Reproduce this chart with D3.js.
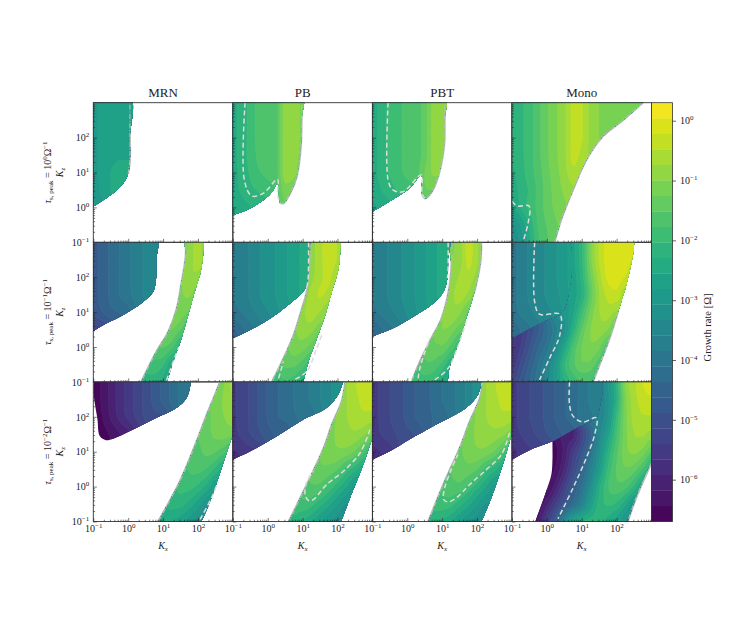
<!DOCTYPE html>
<html><head><meta charset="utf-8">
<script src="https://cdn.jsdelivr.net/npm/d3@7"></script>
<style>html,body{margin:0;background:#fff}svg{display:block}text{font-family:"Liberation Serif",serif;fill:#222}</style>
</head><body><div id="chart"></div>
<script>
const _ = null;
const columnTitles = ["MRN","PB","PBT","Mono"];
const rowExponents = ["0","−1","−2"];
const kTicks = [0.1,1,10,100];
const growthTicks = [1,0.1,0.01,1e-3,1e-4,1e-5,1e-6];
const growthDomain = [2e-7,2];
const bandCount = 27;
// grid nodes of every growth table: log10 Kx (columns) and log10 Kz (rows)
const gridLogKx = [-1,-.75,-.5,-.25,0,.25,.5,.75,1,1.25,1.5,1.75,2,2.25,2.5,2.75,3];
const gridLogKz = [3,2.5,2,1.5,1,.5,0,-.5,-1];

// ---- row 1 (tau = 1)
const mrn1Edge = [[.05,3.2],[.05,2],[.05,1.36],[0,.97],[-.14,.69],[-.38,.45],[-.71,.21],[-1,.02],[-1.2,-.1],[-1.3,1],[-1.3,3.2]];
const mrn1Growth = [
[-2.95,-2.7,-2.65,-2.65,-2.65,-2.65],
[-2.95,-2.7,-2.65,-2.65,-2.65,-2.65],
[-2.95,-2.7,-2.65,-2.65,-2.65,-2.65],
[-2.95,-2.7,-2.65,-2.6,-2.6,-2.6],
[-2.95,-2.7,-2.55,-2.42,-2.42,-2.45],
[-3.0,-2.75,-2.55,-2.42,-2.45],
[-3.1,-2.9,-2.7,-2.6],[],[]];
const pb1Edge = [[.98,3.2],[.97,2.5],[.95,1.74],[.83,.88],[.64,.40],[.45,.12],[.36,.12],[.3,.4],[.28,.74],[.17,.5],[-.12,.21],[-.5,-.03],[-1,-.22],[-1.2,-.3],[-1.3,1],[-1.3,3.2]];
const pb1Growth = [
[-2.4,-2.15,-1.95,-1.65,-1.65,-1.6,-.85,-.8,-1.1,-1.3],
[-2.4,-2.15,-1.95,-1.65,-1.65,-1.6,-.85,-.8,-1.1,-1.3],
[-2.4,-2.15,-1.95,-1.65,-1.65,-1.6,-.85,-.8,-1.1,-1.3],
[-2.4,-2.15,-1.95,-1.7,-1.65,-1.6,-.85,-.85,-1.15,-1.4],
[-2.4,-2.2,-2.0,-1.8,-1.7,-1.6,-.85,-.9,-1.3],
[-2.4,-2.25,-2.1,-2.0,-1.9,-1.7,-1.1,-1.2],
[-2.5,-2.4,-2.3,-2.2,-2.1,-1.7,-1.3],[],[]];
const pb1Dash = [[-.65,3],[-.67,.78],[-.46,.33],[-.12,.41],[.28,.81],[.28,.36],[.36,.1]];
const pbt1Edge = [[1.07,3.2],[1.07,2.5],[1.05,1.7],[.82,.69],[.63,.35],[.5,.26],[.42,.4],[.4,.93],[.07,.55],[-.43,.22],[-1,-.12],[-1.2,-.2],[-1.3,1],[-1.3,3.2]];
const pbt1Growth = [
[-2.4,-2.2,-1.95,-1.85,-1.65,-1.62,-1.4,-.9,-.9,-.9],
[-2.4,-2.2,-1.95,-1.85,-1.65,-1.62,-1.4,-.9,-.9,-.9],
[-2.4,-2.2,-1.95,-1.85,-1.65,-1.62,-1.4,-.9,-.9,-.9],
[-2.4,-2.2,-1.95,-1.85,-1.65,-1.62,-1.4,-.9,-.9,-.95],
[-2.4,-2.2,-2,-1.85,-1.7,-1.65,-1.25,-.95,-1.0],
[-2.5,-2.3,-2.15,-2,-1.9,-1.75,-1.3,-1.25],
[-2.6,-2.5,-2.35,-2.2,-2,-1.8,-1.5],[],[]];
const pbt1Dash = [[-.55,3],[-.55,.78],[-.41,.5],[-.12,.45],[.4,.93],[.42,.4],[.5,.26]];
const mono1Edge = [[2.95,3.2],[2.75,3],[2.18,2.5],[1.6,2.03],[1.13,1.36],[.75,.5],[.41,-.36],[.22,-1],[.15,-1.2],[-1.3,-1.3],[-1.3,3.2]];
const mono1Growth = [
[-2.3,-2.1,-1.9,-1.6,-1.3,-1.05,-.8,-.4,-.45,-.8,-1,-1.1,-1.15,-1.2,-1.2,-1.3],
[-2.3,-2.1,-1.9,-1.6,-1.3,-1.05,-.8,-.4,-.45,-.8,-1,-1.1,-1.15,-1.2,-1.2],
[-2.3,-2.1,-1.9,-1.6,-1.3,-1.05,-.8,-.4,-.45,-.8,-1,-1.1],
[-2.3,-2.1,-1.9,-1.6,-1.3,-1.05,-.8,-.4,-.55,-.8],
[-2.35,-2.15,-1.9,-1.65,-1.35,-1.1,-.85,-.55,-.7],
[-2.5,-2.2,-2.0,-1.7,-1.4,-1.15,-.95,-.8],
[-2.6,-2.3,-1.95,-1.7,-1.4,-1.2,-1.05],
[-3.2,-2.8,-2.3,-1.75,-1.5,-1.3,-1.15],
[-3.3,-3.0,-2.4,-1.85,-1.55,-1.4,-1.4]];
const mono1Dash = [[-1,.18],[-.85,.04],[-.51,.04],[-.54,-.46],[-.67,-.94]];

// ---- row 2 (tau = 0.1)
const mrn2EdgeA = [[.81,3.2],[.81,2.5],[.8,1.97],[.72,1.59],[.43,1.3],[-.14,.92],[-.62,.68],[-1,.46],[-1.2,.35],[-1.3,2],[-1.3,3.2]];
const mrn2GrowthA = [
[-4.7,-4.55,-4.3,-4.1,-3.9,-3.7,-3.55,-3.45,-3.45],
[-4.7,-4.55,-4.3,-4.1,-3.9,-3.7,-3.55,-3.45,-3.45],
[-4.7,-4.55,-4.3,-4.1,-3.9,-3.7,-3.55,-3.45],
[-4.7,-4.55,-4.3,-4.1,-3.95,-3.7,-3.55,-3.5],
[-4.8,-4.65,-4.45,-4.35,-4.2,-3.9,-3.7],
[-5.3,-5.15,-4.95,-4.7],[],[],[]];
const mrn2EdgeB = [[1.63,3.2],[1.65,2.64],[1.5,1.68],[1.39,1.1],[1.15,.44],[.81,-.13],[.37,-1],[.27,-1.2],[1.0,-1.2],[1.1,-1],[1.29,-.42],[1.53,.25],[1.72,.92],[1.91,1.59],[2.1,2.25],[2.17,3],[2.17,3.2]];
const mrn2GrowthB = [
[_,_,_,_,_,_,_,_,_,_,-1.1,-.95,-.6,-1],
[_,_,_,_,_,_,_,_,_,_,-1.1,-.9,-.6,-1],
[_,_,_,_,_,_,_,_,_,-1.2,-1.05,-.75,-.85],
[_,_,_,_,_,_,_,_,_,-1.25,-1.05,-.95,-1.2],
[_,_,_,_,_,_,_,_,-1.3,-1.15,-1.1,-1.3],
[_,_,_,_,_,_,_,-1.5,-1.35,-1.25,-1.5,-1.9],
[_,_,_,_,_,_,-1.8,-1.6,-1.5,-1.7,-2.2],
[_,_,_,_,_,-2.1,-1.85,-1.85,-2.0,-2.5],
[_,_,_,_,_,-2.3,-2.2,-2.15,-2.4,-2.8]];
const mrn2Dash = [[1.1,-.95],[1.28,-.45],[1.45,0]];
const pb2EdgeA = [[1.17,3.2],[1.17,2.5],[1.14,1.87],[1.02,1.59],[.64,1.25],[.07,.82],[-.5,.49],[-1,.25],[-1.2,.15],[-1.3,2],[-1.3,3.2]];
const pb2GrowthA = [
[-3.85,-3.75,-3.55,-3.35,-3.2,-3.05,-2.85,-2.7,-2.5,-2.45],
[-3.85,-3.75,-3.55,-3.35,-3.2,-3.05,-2.85,-2.7,-2.5,-2.45],
[-3.85,-3.75,-3.55,-3.35,-3.2,-3.05,-2.85,-2.7,-2.5,-2.45],
[-3.85,-3.75,-3.55,-3.35,-3.2,-3.05,-2.85,-2.7,-2.5],
[-3.95,-3.85,-3.7,-3.5,-3.35,-3.15,-2.95,-2.8],
[-4.4,-4.2,-3.95,-3.8,-3.6],
[-4.7,-4.5],[],[]];
const pb2Dash = [[1.17,3],[1.16,2],[1.12,1.7]];
const pb2EdgeB = [[1.22,3.2],[1.2,2.25],[1.12,1.59],[.98,1.1],[.74,.34],[.45,-.33],[.12,-1],[.02,-1.2],[.95,-1.2],[1.02,-1],[1.17,-.42],[1.41,.25],[1.65,.92],[1.84,1.59],[2.03,2.25],[2.09,3],[2.09,3.2]];
const pb2GrowthB = [
[_,_,_,_,_,_,_,_,_,-.85,-.55,-.3,-.5,-.8],
[_,_,_,_,_,_,_,_,_,-.85,-.55,-.35,-.5,-.8],
[_,_,_,_,_,_,_,_,_,-.8,-.55,-.4,-.75],
[_,_,_,_,_,_,_,_,-.9,-.65,-.45,-.6,-1],
[_,_,_,_,_,_,_,_,-.8,-.6,-.75,-1.0],
[_,_,_,_,_,_,_,-1.05,-.85,-.9,-1.2],
[_,_,_,_,_,_,-1.35,-1.1,-1.15,-1.4,-1.8],
[_,_,_,_,_,-1.7,-1.45,-1.45,-1.65,-2.0],
[_,_,_,_,-2.0,-1.9,-1.8,-1.9,-2.2,-2.5]];
const pb2DashLeft = [[.31,-.9],[.45,-.42]];
const pb2DashRight = [[.79,-.92],[1.12,-.7],[1.41,-.02],[1.55,.34]];
const pbt2EdgeA = [[1.17,3.2],[1.17,2.5],[1.15,1.97],[1.04,1.59],[.74,1.25],[.17,.87],[-.41,.54],[-1,.3],[-1.2,.2],[-1.3,2],[-1.3,3.2]];
const pbt2GrowthA = [
[-3.85,-3.7,-3.55,-3.4,-3.2,-3.05,-2.85,-2.65,-2.45,-2.4],
[-3.85,-3.7,-3.55,-3.4,-3.2,-3.05,-2.85,-2.65,-2.45,-2.4],
[-3.85,-3.7,-3.55,-3.4,-3.2,-3.05,-2.85,-2.65,-2.45,-2.4],
[-3.85,-3.7,-3.55,-3.4,-3.2,-3.05,-2.85,-2.65,-2.45],
[-3.95,-3.8,-3.65,-3.5,-3.3,-3.1,-2.9,-2.75],
[-4.35,-4.15,-3.95,-3.75,-3.5,-3.25],
[-4.6,-4.4],[],[]];
const pbt2Dash = [[1.17,3],[1.17,2.2],[1.15,1.97]];
const pbt2EdgeB = [[1.29,3.2],[1.26,2.25],[1.2,1.68],[.98,.82],[.69,.25],[.36,-.42],[.12,-1],[.02,-1.2],[1.05,-1.2],[1.15,-1],[1.21,-.6],[1.45,.06],[1.69,.82],[1.93,1.59],[2.1,2.45],[2.12,3],[2.12,3.2]];
const pbt2GrowthB = [
[_,_,_,_,_,_,_,_,_,-1.05,-.85,-.35,-.7,-1],
[_,_,_,_,_,_,_,_,_,-1,-.85,-.4,-.7,-1],
[_,_,_,_,_,_,_,_,_,-.95,-.7,-.55,-.85],
[_,_,_,_,_,_,_,_,-1.1,-.85,-.6,-.8,-1.2],
[_,_,_,_,_,_,_,_,-1,-.8,-.95,-1.3],
[_,_,_,_,_,_,_,-1.25,-1.0,-1.1,-1.4],
[_,_,_,_,_,_,-1.5,-1.3,-1.3,-1.6,-2],
[_,_,_,_,_,-1.8,-1.55,-1.6,-1.85,-2.3],
[_,_,_,_,-2.1,-1.95,-1.9,-2,-2.4,-2.7]];
const pbt2DashLeft = [[.31,-.9],[.36,-.61],[.64,.25]];
const pbt2DashRight = [[.79,-.94],[1.17,-.61],[1.5,.15],[1.69,.73]];
const mono2EdgeB = [[2.55,3.2],[2.51,3],[2.47,2.64],[2.28,1.78],[2.04,1.01],[1.8,.25],[1.51,-.51],[1.32,-1],[1.25,-1.2],[-1.3,-1.3],[-1.3,3.2]];
const mono2GrowthB = [
[_,_,_,_,_,-3.1,-2.9,-2.65,-2.1,-1.1,-.45,-.1,-.05,-.05,-.15],
[_,_,_,_,_,-3.1,-2.9,-2.65,-2.1,-1.1,-.45,-.1,-.05,-.05,-.3],
[_,_,_,_,_,-3.1,-2.9,-2.7,-2.2,-1.3,-.6,-.15,-.1,-.25,-.6],
[_,_,_,_,_,_,-2.9,-2.7,-2.3,-1.45,-.75,-.4,-.3,-.7],
[_,_,_,_,_,-3.3,-3.0,-2.6,-1.9,-1.2,-.75,-.6,-.8],
[-5.7,-5.5,-5.1,-4.7,-4.2,-3.7,-3.2,-2.3,-1.5,-1.0,-.85,-1.0,-1.5],
[-5.7,-5.4,-4.9,-4.4,-4,-3.4,-2.6,-1.75,-1.25,-1.05,-1.2,-1.7],
[-5.6,-5.1,-4.6,-4.1,-3.6,-3.0,-2.1,-1.6,-1.3,-1.35,-1.7,-2.2],
[-5.3,-4.8,-4.4,-3.95,-3.5,-2.9,-2.3,-1.95,-1.75,-1.8,-2.2,-2.7]];
const mono2EdgeA = [[.55,3.2],[.55,1.2],[.37,.94],[-.02,.77],[-.49,.54],[-1,.25],[-1.3,.1],[-1.3,3.2]];
const mono2GrowthA = [
[-3.95,-3.75,-3.55,-3.4,-3.3,-3.1,-2.9,-2.7],
[-3.95,-3.75,-3.55,-3.4,-3.3,-3.1,-2.9,-2.7],
[-3.95,-3.75,-3.55,-3.4,-3.3,-3.1,-2.9,-2.7],
[-3.95,-3.75,-3.55,-3.4,-3.3,-3.15,-2.95,-2.7],
[-4.0,-3.8,-3.65,-3.5,-3.4,-3.25,-3.0,-2.6],
[-4.3,-4.1,-3.9,-3.7,-3.55],[],[],[]];
const mono2Dash = [[-.35,3],[-.35,1.3],[-.21,.94],[.37,.94],[.37,.34],[.08,-.32],[-.21,-.94]];

// ---- row 3 (tau = 0.01)
const mrn3EdgeA = [[1.77,3.2],[1.77,2.85],[1.67,2.54],[1.39,2.26],[.81,1.97],[.05,1.59],[-.43,1.37],[-.64,1.33],[-.81,1.44],[-.875,1.87],[-.875,3.2]];
const mrn3GrowthA = [
[-6.55,-6.4,-6.1,-5.8,-5.55,-5.3,-5.05,-4.8,-4.55,-4.3,-4.05,-3.9,-3.9],
[-6.55,-6.4,-6.1,-5.8,-5.55,-5.3,-5.05,-4.8,-4.55,-4.3,-4.05,-3.9],
[-6.6,-6.45,-6.15,-5.85,-5.6,-5.35,-5.1,-4.95,-4.9],
[-6.6,-6.55,-6.4,-6.2,-6.0,-5.7],
[-6.6,-6.6,-6.5],[],[],[],[]];
const mrn3EdgeB = [[2.7,3.2],[2.63,3],[2.49,2.64],[2.25,2.06],[1.96,1.3],[1.48,.15],[.86,-1],[.75,-1.2],[2.0,-1.2],[2.1,-1],[2.39,-.32],[3,1.49],[3.2,2],[3.2,3.2]];
const mrn3GrowthB = [
[_,_,_,_,_,_,_,_,_,_,_,_,_,_,-1.2,-1,-.65],
[_,_,_,_,_,_,_,_,_,_,_,_,_,-1.3,-1.15,-.95,-.75],
[_,_,_,_,_,_,_,_,_,_,_,_,-1.5,-1.35,-1.15,-1,-.85],
[_,_,_,_,_,_,_,_,_,_,_,-1.6,-1.5,-1.35,-1.2,-1.15,-1.2],
[_,_,_,_,_,_,_,_,_,_,_,-1.75,-1.6,-1.45,-1.5,-1.7,-2],
[_,_,_,_,_,_,_,_,_,_,-1.9,-1.75,-1.7,-1.8,-2.1,-2.4],
[_,_,_,_,_,_,_,_,_,-2.1,-1.95,-1.95,-2.1,-2.4,-2.8],
[_,_,_,_,_,_,_,_,-2.3,-2.2,-2.2,-2.4,-2.7,-3.1],
[_,_,_,_,_,_,_,-2.5,-2.45,-2.5,-2.7,-2.95,-3.2,-3.5]];
const mrn3Dash = [[2.06,-.94],[2.39,-.32],[2.58,.15]];
const pb3EdgeA = [[2.15,3.2],[2.15,3],[2.02,2.64],[1.69,2.26],[1.02,1.92],[.26,1.44],[-.5,1.01],[-1,.77],[-1.2,.67],[-1.3,2],[-1.3,3.2]];
const pb3GrowthA = [
[-5.45,-5.3,-5.1,-4.85,-4.6,-4.4,-4.25,-4.1,-3.95,-3.8,-3.6,-3.4,-3.2,-3.1],
[-5.45,-5.3,-5.1,-4.85,-4.6,-4.4,-4.25,-4.1,-3.95,-3.8,-3.6,-3.4,-3.2],
[-5.45,-5.3,-5.1,-4.85,-4.6,-4.4,-4.3,-4.15,-4.05,-4.0],
[-5.5,-5.35,-5.15,-4.95,-4.75,-4.6,-4.65],
[-5.7,-5.6,-5.5,-5.4],
[-5.9,-5.8],[],[],[]];
const pb3EdgeB = [[2.25,3.2],[2.22,3],[2.12,2.45],[1.84,1.78],[1.6,1.1],[1.12,.06],[.6,-1],[.5,-1.2],[2.0,-1.2],[2.1,-1],[2.36,-.32],[2.74,.63],[3,1.4],[3.2,1.9],[3.2,3.2]];
const pb3GrowthB = [
[_,_,_,_,_,_,_,_,_,_,_,_,_,-.75,-.5,-.3,-.2],
[_,_,_,_,_,_,_,_,_,_,_,_,-.95,-.75,-.55,-.4,-.35],
[_,_,_,_,_,_,_,_,_,_,_,-1.15,-.95,-.75,-.6,-.55,-.6],
[_,_,_,_,_,_,_,_,_,_,-1.25,-1.1,-.95,-.85,-.8,-.95,-1.2],
[_,_,_,_,_,_,_,_,_,_,-1.25,-1.1,-1.05,-1.1,-1.3,-1.7,-2.1],
[_,_,_,_,_,_,_,_,_,-1.45,-1.3,-1.35,-1.5,-1.9,-2.2,-2.5],
[_,_,_,_,_,_,_,_,-1.65,-1.55,-1.6,-1.85,-2.2,-2.55,-2.9],
[_,_,_,_,_,_,_,-1.9,-1.85,-1.95,-2.2,-2.5,-2.8,-3.1],
[_,_,_,_,_,_,-2.1,-2.1,-2.3,-2.5,-2.8,-3,-3.2,-3.4]];
const pb3Dash = [[2.93,1.63],[2.65,.97],[2.17,.44],[1.69,.06],[1.31,-.37],[1.17,-.4],[1.07,-.23],[1.12,.15],[1.31,.44]];
const pbt3EdgeA = [[2.12,3.2],[2.12,3],[2.03,2.64],[1.69,2.26],[.83,1.78],[.06,1.35],[-.5,1.01],[-1,.77],[-1.2,.67],[-1.3,2],[-1.3,3.2]];
const pbt3GrowthA = [
[-5.5,-5.35,-5.15,-5,-4.8,-4.6,-4.45,-4.3,-4.1,-3.95,-3.75,-3.5,-3.2,-3.1],
[-5.5,-5.35,-5.15,-5,-4.8,-4.6,-4.45,-4.3,-4.1,-3.95,-3.75,-3.5,-3.2],
[-5.5,-5.35,-5.15,-5,-4.8,-4.6,-4.5,-4.35,-4.25],
[-5.55,-5.4,-5.25,-5.1,-4.95,-4.85],
[-5.75,-5.65,-5.55],
[-5.9,-5.8],[],[],[]];
const pbt3EdgeB = [[2.15,3.2],[2.15,3],[2.08,2.54],[1.79,1.87],[1.5,1.1],[1.07,.15],[.6,-1],[.5,-1.2],[2.0,-1.2],[2.12,-1],[2.41,-.32],[2.74,.63],[3,1.5],[3.2,2],[3.2,3.2]];
const pbt3GrowthB = [
[_,_,_,_,_,_,_,_,_,_,_,_,_,-.75,-.5,-.3,-.2],
[_,_,_,_,_,_,_,_,_,_,_,_,-.95,-.75,-.55,-.4,-.35],
[_,_,_,_,_,_,_,_,_,_,_,-1.15,-.95,-.75,-.6,-.55,-.6],
[_,_,_,_,_,_,_,_,_,_,-1.3,-1.1,-.95,-.85,-.85,-.95,-1.2],
[_,_,_,_,_,_,_,_,_,_,-1.3,-1.15,-1.05,-1.1,-1.3,-1.7,-2.1],
[_,_,_,_,_,_,_,_,_,-1.5,-1.35,-1.35,-1.5,-1.9,-2.2,-2.5],
[_,_,_,_,_,_,_,_,-1.7,-1.6,-1.6,-1.85,-2.2,-2.55,-2.9],
[_,_,_,_,_,_,_,-1.95,-1.9,-1.95,-2.2,-2.5,-2.8,-3.1],
[_,_,_,_,_,_,-2.1,-2.15,-2.3,-2.5,-2.8,-3,-3.2,-3.4]];
const pbt3Dash = [[2.93,1.54],[2.70,.92],[2.27,.49],[1.79,.06],[1.41,-.32],[1.17,-.44],[1.04,-.37],[1.07,-.05],[1.26,.49],[1.45,.92]];
const mono3EdgeB = [[3.3,3.3],[3.3,1],[3,.68],[2.56,-.32],[2.32,-1],[2.25,-1.2],[-.4,-1.2],[-.33,-1],[-.02,-.13],[.13,.35],[.16,.73],[.16,1.3],[.16,3.3]];
const mono3GrowthB = [
[_,_,_,_,_,_,_,_,_,-3.8,-3.6,-3.1,-2.2,-.95,-.55,-.2,-.1],
[_,_,_,_,_,_,_,_,_,-3.8,-3.6,-3.15,-2.3,-1.1,-.6,-.35,-.25],
[_,_,_,_,_,_,_,_,_,-3.9,-3.55,-3.1,-2.0,-1.1,-.65,-.5,-.5],
[_,_,_,_,_,_,_,-6,-5.3,-4.5,-3.5,-2.7,-1.8,-1.1,-.75,-.7,-.85],
[_,_,_,_,_,-6.5,-6.1,-5.5,-4.9,-4.1,-3.2,-2.3,-1.6,-1.1,-.95,-1.1,-1.5],
[_,_,_,_,-6.6,-6.4,-5.9,-5.2,-4.5,-3.7,-2.9,-2,-1.5,-1.3,-1.4,-1.8,-2.3],
[_,_,_,_,-6.5,-6.05,-5.4,-4.7,-4.1,-3.3,-2.4,-1.8,-1.6,-1.7,-2.1,-2.6],
[_,_,_,-6.4,-6,-5.4,-4.8,-4.2,-3.6,-2.8,-2.2,-2,-2.1,-2.5,-3],
[_,_,_,-6.2,-5.4,-4.7,-3.5,-2.7,-2.35,-2.2,-2.2,-2.4,-2.7,-3.1,-3.5]];
const mono3EdgeA = [[1.5,3.2],[1.5,2.2],[1.42,1.97],[.84,1.68],[.16,1.3],[-.4,1.09],[-1,.77],[-1.3,.6],[-1.3,3.2]];
const mono3GrowthA = [
[-5.45,-5.35,-5.15,-5,-4.8,-4.6,-4.4,-4.25,-4.0,-3.8,-3.6],
[-5.45,-5.35,-5.15,-5,-4.8,-4.6,-4.4,-4.25,-4.0,-3.8,-3.6],
[-5.45,-5.35,-5.15,-5,-4.8,-4.6,-4.4,-4.25,-4.0,-3.9],
[-5.5,-5.4,-5.25,-5.1,-4.9,-4.75,-4.6,-4.5],
[-5.75,-5.6,-5.45,-5.35,-5.2,-5],[],[],[],[]];
const mono3Dash = [[.65,3],[.65,2.35],[.75,2.02],[1.03,1.85],[1.42,1.97],[1.37,1.49],[1.13,.82],[.75,-.04],[.32,-.92]];

const panels = [
 [{regions:[{edge:mrn1Edge,growth:mrn1Growth,rim:[[0,4]]}],dashes:[]},
  {regions:[{edge:pb1Edge,growth:pb1Growth,rim:[[0,7]]}],dashes:[pb1Dash]},
  {regions:[{edge:pbt1Edge,growth:pbt1Growth,rim:[[0,7]]}],dashes:[pbt1Dash]},
  {regions:[{edge:mono1Edge,growth:mono1Growth,rim:[[1,8]]}],dashes:[mono1Dash]}],
 [{regions:[{edge:mrn2EdgeB,growth:mrn2GrowthB,rim:[[0,7]]},{edge:mrn2EdgeA,growth:mrn2GrowthA,rim:[]}],dashes:[mrn2Dash]},
  {regions:[{edge:pb2EdgeB,growth:pb2GrowthB,rim:[[0,7]]},{edge:pb2EdgeA,growth:pb2GrowthA,rim:[]}],dashes:[pb2Dash,pb2DashLeft,pb2DashRight]},
  {regions:[{edge:pbt2EdgeB,growth:pbt2GrowthB,rim:[[0,7],[13,17]]},{edge:pbt2EdgeA,growth:pbt2GrowthA,rim:[]}],dashes:[pbt2Dash,pbt2DashLeft,pbt2DashRight]},
  {regions:[{edge:mono2EdgeB,growth:mono2GrowthB,rim:[[4,8]]},{edge:mono2EdgeA,growth:mono2GrowthA,rim:[]}],dashes:[mono2Dash]}],
 [{regions:[{edge:mrn3EdgeB,growth:mrn3GrowthB,rim:[[1,7]]},{edge:mrn3EdgeA,growth:mrn3GrowthA,rim:[]}],dashes:[mrn3Dash]},
  {regions:[{edge:pb3EdgeB,growth:pb3GrowthB,rim:[[1,7]]},{edge:pb3EdgeA,growth:pb3GrowthA,rim:[]}],dashes:[pb3Dash]},
  {regions:[{edge:pbt3EdgeB,growth:pbt3GrowthB,rim:[[1,7]]},{edge:pbt3EdgeA,growth:pbt3GrowthA,rim:[]}],dashes:[pbt3Dash]},
  {regions:[{edge:mono3EdgeB,growth:mono3GrowthB,rim:[[2,5]]},{edge:mono3EdgeA,growth:mono3GrowthA,rim:[]}],dashes:[mono3Dash]}]
];

// ---- layout
const W=747,H=628, left=93.3, top_=102.7, pw=139.55, ph=139.6;
const svg=d3.select("#chart").append("svg").attr("width",W).attr("height",H);
svg.append("rect").attr("width",W).attr("height",H).attr("fill","#fff");
const x=d3.scaleLog().domain([0.1,1000]).range([0,pw]);
const y=d3.scaleLog().domain([0.1,1000]).range([ph,0]);
const X=l=>x(Math.pow(10,l)), Y=l=>y(Math.pow(10,l));
const logMin=Math.log10(growthDomain[0]),logMax=Math.log10(growthDomain[1]);
const levels=d3.range(bandCount+1).map(i=>logMin+(logMax-logMin)*i/bandCount);
const bandColor=i=>d3.interpolateViridis((i+.5)/bandCount);

function fillGaps(rows){
  const R=gridLogKz.length,C=gridLogKx.length;
  let g=d3.range(R).map(r=>d3.range(C).map(c=>{const v=(rows[r]||[])[c];return v==null?null:v;}));
  for(let pass=0;pass<40;pass++){
    let any=false;const n=g.map(a=>a.slice());
    for(let r=0;r<R;r++)for(let c=0;c<C;c++){ if(g[r][c]!=null)continue;
      let s=0,k=0;
      for(let dr=-1;dr<=1;dr++)for(let dc=-1;dc<=1;dc++){
        const v=(g[r+dr]||[])[c+dc]; if(v!=null){const w=(dr===0||dc===0)?2:1;s+=w*v;k+=w;}
      }
      if(k){n[r][c]=s/k;} else any=true;
    }
    g=n; if(!any)break;
  }
  return g;
}
function cubic(p0,p1,p2,p3,t){
  const v=.5*((2*p1)+(-p0+p2)*t+(2*p0-5*p1+4*p2-p3)*t*t+(-p0+3*p1-3*p2+p3)*t*t*t);
  return Math.max(Math.min(p1,p2),Math.min(Math.max(p1,p2),v));
}
function resample(g,kx,kz){
  const R=g.length,C=g[0].length,nx=(C-1)*kx+1,nz=(R-1)*kz+1,out=new Float64Array(nx*nz);
  const at=(r,c)=>g[Math.max(0,Math.min(R-1,r))][Math.max(0,Math.min(C-1,c))];
  for(let j=0;j<nz;j++){const r=Math.min(R-2,Math.floor(j/kz)),tz=j/kz-r;
    for(let i=0;i<nx;i++){const c=Math.min(C-2,Math.floor(i/kx)),tx=i/kx-c;
      const col=[-1,0,1,2].map(dr=>cubic(at(r+dr,c-1),at(r+dr,c),at(r+dr,c+1),at(r+dr,c+2),tx));
      const lo=Math.min(at(r,c),at(r,c+1),at(r+1,c),at(r+1,c+1)),hi=Math.max(at(r,c),at(r,c+1),at(r+1,c),at(r+1,c+1));
      out[j*nx+i]=Math.max(lo,Math.min(hi,cubic(col[0],col[1],col[2],col[3],tz)));
    }}
  return {values:out,nx,nz};
}
const kx=6,kz=12;
const closedEdge=d3.line().x(d=>X(d[0])).y(d=>Y(d[1])).curve(d3.curveCatmullRomClosed.alpha(.5));
const openLine=d3.line().x(d=>X(d[0])).y(d=>Y(d[1])).curve(d3.curveCatmullRom.alpha(.5));
const gridPath=d3.geoPath(d3.geoTransform({point(cx,cy){
  const lx=gridLogKx[0]+(cx-.5)/kx*(gridLogKx[1]-gridLogKx[0]);
  const lz=gridLogKz[0]+(cy-.5)/kz*(gridLogKz[1]-gridLogKz[0]);
  this.stream.point(X(lx),Y(lz));
}}));

const expLabel=(sel,fs)=>{ sel.each(function(d){
  const e=Math.round(Math.log10(d)); const t=d3.select(this).text("10");
  t.append("tspan").attr("dy",-4).attr("font-size",fs*.7).text(String(e).replace("-","−"));
});};

let uid=0;
panels.forEach((rowP,ri)=>rowP.forEach((p,ci)=>{
  const g=svg.append("g").attr("transform",`translate(${left+ci*pw},${top_+ri*ph})`);
  const clipId="panel"+(uid++);
  g.append("clipPath").attr("id",clipId).append("rect").attr("width",pw).attr("height",ph);
  const body=g.append("g").attr("clip-path",`url(#${clipId})`);
  p.regions.forEach(reg=>{ reg.rim.forEach(([a,b])=>{
      body.append("path").attr("d",openLine(reg.edge.slice(a,b))).attr("fill","none")
        .attr("stroke","#c4c4c4").attr("stroke-width",2.2);
  });});
  p.regions.forEach(reg=>{
    const id="reg"+(uid++);
    g.append("clipPath").attr("id",id).append("path").attr("d",closedEdge(reg.edge));
    const layer=body.append("g").attr("clip-path",`url(#${id})`);
    const f=resample(fillGaps(reg.growth),kx,kz);
    const cs=d3.contours().size([f.nx,f.nz]).thresholds(levels.slice(0,-1))(f.values);
    layer.selectAll("path").data(cs).join("path").attr("d",gridPath)
      .attr("fill",(d,i)=>bandColor(i)).attr("stroke","#fff").attr("stroke-opacity",.12).attr("stroke-width",.4);
  });
  p.regions.forEach(reg=>{ reg.rim.forEach(([a,b])=>{
      body.append("path").attr("d",openLine(reg.edge.slice(a,b))).attr("fill","none")
        .attr("stroke","#b8b8b8").attr("stroke-width",1.2).attr("stroke-dasharray","5 1.5 1.2 1.5");
  });});
  p.dashes.forEach(dl=>{
    body.append("path").attr("d",openLine(dl)).attr("fill","none")
      .attr("stroke","#dcdcdc").attr("stroke-width",1.5).attr("stroke-dasharray","5 3");
  });
  g.append("rect").attr("width",pw).attr("height",ph).attr("fill","none").attr("stroke","#333").attr("stroke-width",.9);
  const minor=d3.range(-1,3).flatMap(e=>[2,3,4,5,6,7,8,9].map(m=>m*Math.pow(10,e)));
  const gx=g.append("g").attr("transform",`translate(0,${ph})`);
  gx.call(d3.axisBottom(x).tickValues(minor).tickSizeInner(-1.8).tickSizeOuter(0).tickFormat("")).call(a=>a.select(".domain").remove());
  const gxM=g.append("g").attr("transform",`translate(0,${ph})`);
  gxM.call(d3.axisBottom(x).tickValues(kTicks).tickSizeInner(-3.5).tickSizeOuter(0).tickPadding(3.5).tickFormat(d=>"10")).call(a=>a.select(".domain").remove());
  const gy=g.append("g");
  gy.call(d3.axisLeft(y).tickValues(minor).tickSizeInner(-1.8).tickSizeOuter(0).tickFormat("")).call(a=>a.select(".domain").remove());
  const gyM=g.append("g");
  gyM.call(d3.axisLeft(y).tickValues(kTicks).tickSizeInner(-3.5).tickSizeOuter(0).tickPadding(4).tickFormat(d=>"10")).call(a=>a.select(".domain").remove());
  g.selectAll(".tick line").attr("stroke","#222").attr("stroke-width",.6);
  gxM.selectAll("text").attr("font-size",10).attr("font-family","Liberation Serif");
  gyM.selectAll("text").attr("font-size",10).attr("font-family","Liberation Serif");
  if(ri===2) expLabel(gxM.selectAll("text"),10); else gxM.selectAll("text").remove();
  if(ci===0) expLabel(gyM.selectAll("text"),10); else gyM.selectAll("text").remove();
  if(ri===0) g.append("text").attr("x",pw/2).attr("y",-5.5).attr("text-anchor","middle").attr("font-size",13).text(columnTitles[ci]);
  if(ri===2){
    const t=g.append("text").attr("x",pw/2).attr("y",ph+27.5).attr("text-anchor","middle").attr("font-size",10);
    t.append("tspan").attr("font-style","italic").text("K");
    t.append("tspan").attr("dy",2).attr("font-size",7).attr("font-style","italic").text("x");
  }
  if(ci===0){
    const cy=ph/2;
    const a=g.append("text").attr("transform",`translate(-42,${cy}) rotate(-90)`).attr("text-anchor","middle").attr("font-size",10);
    a.append("tspan").attr("font-style","italic").text("τ");
    a.append("tspan").attr("dy",2).attr("font-size",7).text("s, peak");
    a.append("tspan").attr("dy",-2).text(" = 10");
    a.append("tspan").attr("dy",-4).attr("font-size",7).text(rowExponents[ri]);
    a.append("tspan").attr("dy",4).text("Ω");
    a.append("tspan").attr("dy",-4).attr("font-size",7).text("−1");
    const b=g.append("text").attr("transform",`translate(-30,${cy}) rotate(-90)`).attr("text-anchor","middle").attr("font-size",10);
    b.append("tspan").attr("font-style","italic").text("K");
    b.append("tspan").attr("dy",2).attr("font-size",7).attr("font-style","italic").text("z");
  }
}));

// colour bar
const cbH=ph*3, cbW=21;
const cb=svg.append("g").attr("transform",`translate(${left+4*pw},${top_})`);
const c=d3.scaleLog().domain(growthDomain).range([cbH,0]);
cb.selectAll("rect.band").data(d3.range(bandCount)).join("rect").attr("class","band")
  .attr("x",0).attr("width",cbW)
  .attr("y",i=>c(Math.pow(10,levels[i+1]))).attr("height",i=>c(Math.pow(10,levels[i]))-c(Math.pow(10,levels[i+1]))+.3)
  .attr("fill",i=>bandColor(i));
cb.append("rect").attr("width",cbW).attr("height",cbH).attr("fill","none").attr("stroke","#333").attr("stroke-width",.8);
const cax=cb.append("g").attr("transform",`translate(${cbW},0)`);
cax.call(d3.axisRight(c).tickValues(growthTicks).tickSizeInner(3.5).tickSizeOuter(0).tickPadding(4).tickFormat(d=>"10")).call(a=>a.select(".domain").remove());
cax.selectAll("line").attr("stroke","#222").attr("stroke-width",.7);
cax.selectAll("text").attr("font-size",10).attr("font-family","Liberation Serif");
expLabel(cax.selectAll("text"),10);
cb.append("text").attr("transform",`translate(${cbW+38},${c(3.5e-4)}) rotate(-90)`).attr("text-anchor","middle").attr("font-size",10.5).text("Growth rate [Ω]");
</script></body></html>
